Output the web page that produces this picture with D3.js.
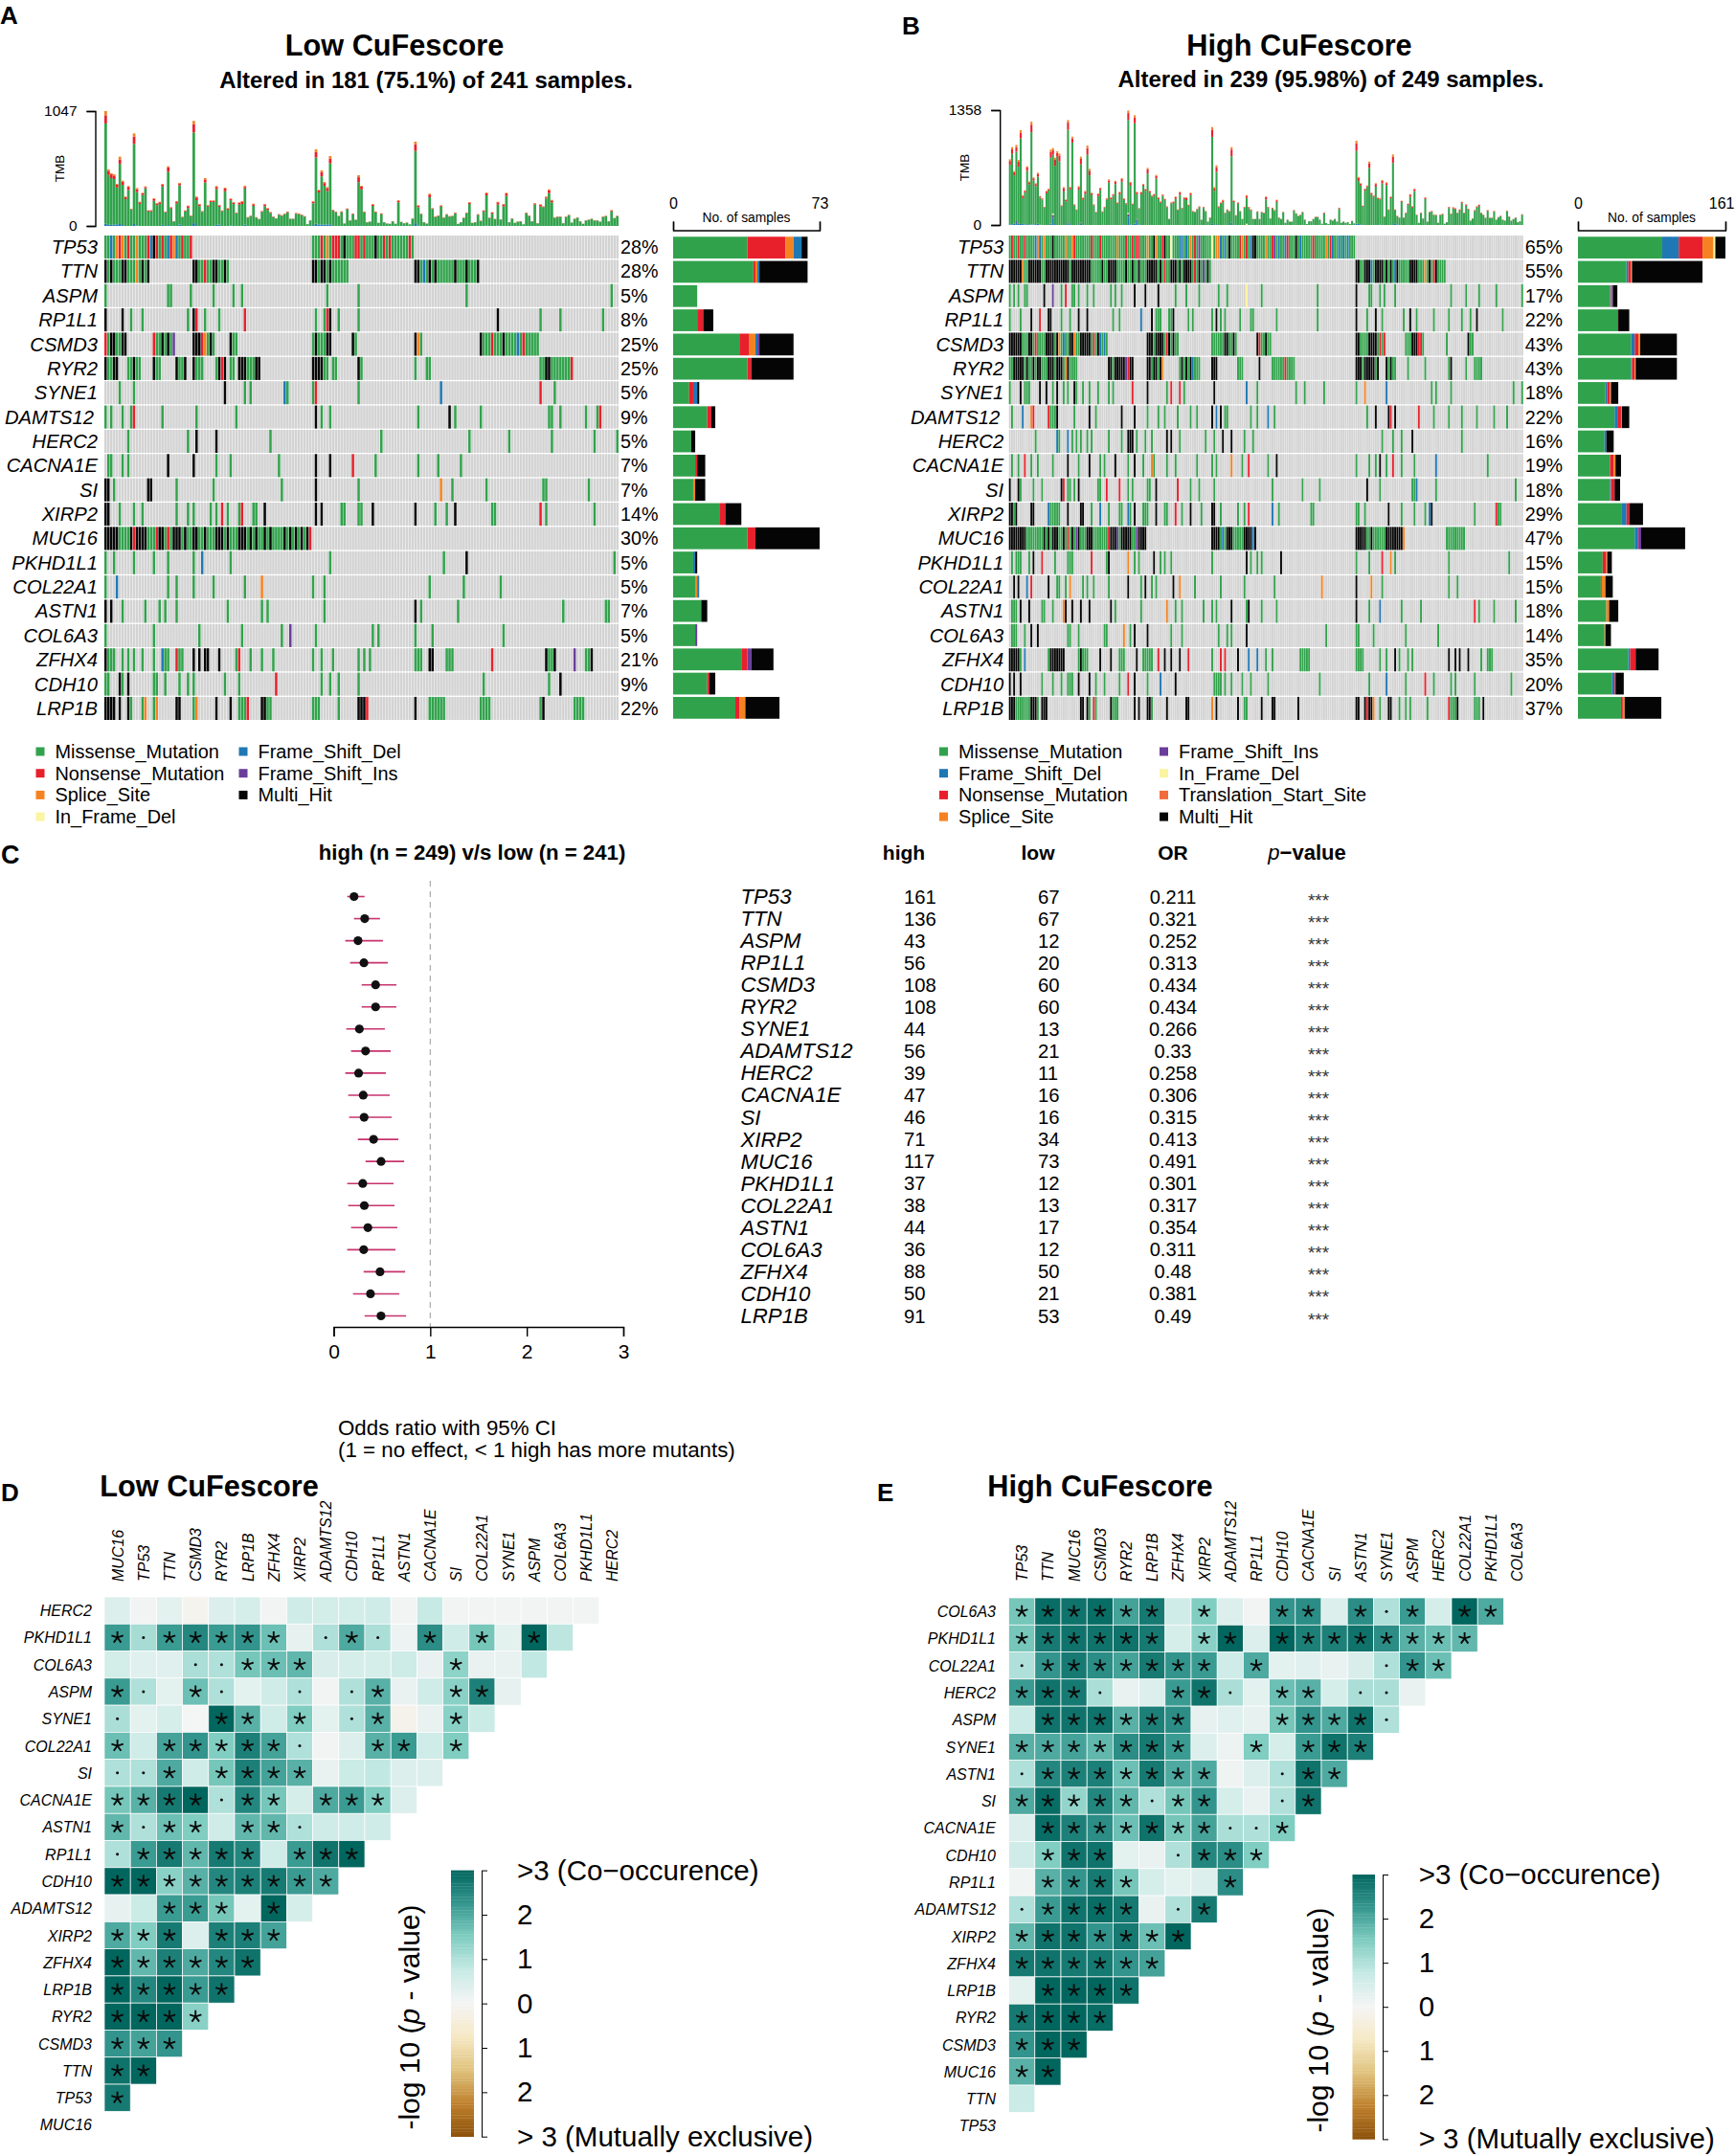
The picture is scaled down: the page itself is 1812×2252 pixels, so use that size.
<!DOCTYPE html>
<html>
<head>
<meta charset="utf-8">
<script src="https://cdn.jsdelivr.net/npm/d3@7"></script>
<style>
    body { margin: 0; background: white; }
    text { font-family: "Liberation Sans", Arial, sans-serif; fill: black; }
    .axis path, .axis line { stroke: black; stroke-width: 1.4; }
    .axis text { font-family: "Liberation Sans", Arial, sans-serif; }
</style>
</head>
<body>
<svg id="chart" width="1812" height="2252"></svg>
<script>
// oncoplot genes, top to bottom (the A of ADAMTS12 is cut off in the figure)
const oncoGenes = ["TP53","TTN","ASPM","RP1L1","CSMD3","RYR2","SYNE1","DAMTS12","HERC2","CACNA1E","SI","XIRP2","MUC16","PKHD1L1","COL22A1","ASTN1","COL6A3","ZFHX4","CDH10","LRP1B"]
const lowPct = [28,28,5,8,25,25,5,9,5,7,7,14,30,5,5,7,5,21,9,22]
const highPct = [65,55,17,22,43,43,18,22,16,19,18,29,47,15,15,18,14,35,20,37]

// M missense, N nonsense, S splice, D fs del, I fs ins, F in-frame del, T tss, H multi hit
const mutationColors = {M:"#31a24c",N:"#e8202c",S:"#f58220",D:"#1f78b4",I:"#6a3d9a",F:"#fbf4a0",T:"#f26b3a",H:"#050505"}

const lowTmb = [1047,515,480,471,384,631,413,268,364,157,843,346,221,302,361,142,145,253,209,221,
384,131,544,172,44,227,393,84,142,186,96,957,268,201,137,436,192,233,233,364,
192,142,349,163,250,218,122,215,227,366,81,93,204,81,64,137,201,163,128,87,
70,108,99,113,131,67,67,119,113,105,90,17,52,227,698,329,506,401,355,637,
148,131,93,134,23,160,52,113,58,462,366,131,35,41,201,131,29,116,35,23,
20,44,20,236,38,26,32,15,70,768,189,113,35,23,294,163,87,96,189,79,
108,90,93,122,20,35,76,122,218,29,35,108,49,142,305,76,125,64,221,61,
201,302,35,70,29,41,44,15,122,96,44,209,26,198,180,268,334,238,79,87,
87,26,87,102,32,67,79,44,20,52,58,67,52,52,41,87,93,44,145,73,93]
const lowTmbNonsense = [75,38,34,32,25,40,28,18,28,5,68,25,15,15,12,8,8,18,15,15,
18,5,40,8,2,18,15,4,6,18,4,75,25,15,6,28,10,8,8,20,
12,5,25,10,10,12,5,15,20,15,3,4,15,3,3,5,15,12,8,3,
2,4,4,5,6,2,2,5,5,4,3,1,1,15,50,18,40,25,28,45,
5,6,3,4,1,5,2,6,2,45,25,6,1,2,12,6,1,5,1,1,
1,2,1,15,1,1,1,0,2,60,12,3,1,1,25,5,4,4,8,2,
3,3,3,5,1,1,3,5,12,1,1,4,2,10,20,3,10,2,20,2,
18,22,1,2,1,1,2,0,5,4,2,10,1,15,5,10,25,18,2,3,
2,1,3,3,1,2,2,2,1,2,2,2,2,2,1,3,3,2,8,2,3]
const lowTmbSplice = [38,12,10,12,8,25,10,6,8,3,28,12,5,5,6,3,3,6,5,6,
6,3,10,4,1,5,8,2,3,5,2,30,8,5,3,12,5,6,6,8,
5,3,8,4,6,6,3,5,6,10,2,2,6,2,1,3,6,4,3,2,
1,2,2,3,3,1,1,3,3,3,2,0,1,6,25,6,15,10,10,22,
3,3,2,3,0,3,1,2,1,18,8,3,1,1,6,3,0,3,1,0,
0,1,0,6,1,1,1,0,2,25,6,3,1,1,8,3,2,2,4,2,
2,2,2,3,0,1,2,3,6,1,1,3,1,3,6,2,3,1,6,1,
5,6,1,2,1,1,1,0,3,2,1,4,1,5,3,8,10,6,2,2,
2,1,2,3,1,2,2,1,0,1,1,2,1,1,1,2,2,1,4,2,2]
const lowTmbDel = [[0,20],[1,10],[2,10],[3,12],[4,15],[5,18],[6,8],[10,18],[11,6],[20,10],[22,8],[26,12],[31,25],[32,8],[39,10],[40,12],[44,6],[49,12],[73,8],[74,20],[75,12],[76,14],[77,12],[78,14],[79,15],[89,8],[109,25],[110,6],[134,6],[138,6]]
const lowTmbIns = []
const lowTmbFrame = []

const highTmb = [777,920,637,946,769,1120,354,411,694,516,1221,562,494,618,343,317,215,403,430,890,
909,795,871,844,234,449,302,1240,449,1044,245,185,460,807,324,403,939,664,381,245,
155,373,441,162,215,317,539,328,366,524,268,392,554,317,260,1353,509,253,1297,392,
200,392,486,426,675,403,351,366,592,328,279,362,309,222,72,268,279,336,185,392,
204,328,328,241,381,166,158,192,222,64,215,166,41,90,1157,449,705,222,268,298,
147,185,166,920,290,117,268,166,72,215,354,215,185,72,72,162,72,155,147,336,
215,79,204,177,298,90,72,155,26,64,41,41,177,139,109,121,155,64,11,45,
45,72,98,98,64,15,147,23,11,64,53,72,41,204,26,41,26,34,11,49,
19,995,569,494,230,430,467,750,381,351,494,324,317,532,102,505,185,336,833,185,
109,90,287,90,147,253,366,222,430,124,26,147,79,328,41,155,166,124,121,26,
124,132,15,34,215,136,211,200,147,185,275,147,245,192,53,79,177,222,241,147,
124,87,177,87,87,166,64,94,109,64,53,170,102,53,72,90,34,45,128]
const highTmbNonsense = [45,55,35,55,60,65,25,20,40,25,90,25,25,35,15,12,8,20,15,70,
55,70,45,65,8,40,18,85,20,50,8,5,30,65,18,25,80,55,20,8,
5,22,18,5,10,12,25,18,15,30,10,20,30,15,10,80,30,8,70,20,
6,20,15,15,50,15,12,12,30,15,10,12,10,8,2,10,12,20,6,25,
6,15,25,8,20,6,5,8,8,2,10,6,1,3,85,30,55,10,10,20,
5,6,6,80,12,4,10,6,2,8,25,10,6,2,2,5,2,5,5,25,
10,2,8,6,18,3,2,5,1,2,1,1,6,4,3,4,5,2,0,1,
1,2,3,3,2,0,8,1,0,2,2,2,1,10,1,1,1,1,0,2,
0,90,35,20,8,18,15,55,15,12,30,12,10,30,3,25,6,15,75,6,
3,3,10,3,5,12,25,12,20,4,1,5,2,15,1,5,6,4,4,1,
4,5,0,1,10,5,10,10,5,10,12,5,12,8,2,2,8,10,10,5,
4,3,8,3,3,6,2,3,4,2,2,6,3,2,2,3,1,1,4]
const highTmbSplice = [20,25,15,25,20,30,10,8,15,12,35,10,10,12,6,5,4,8,6,25,
25,25,20,25,4,12,6,30,8,20,4,3,12,25,8,10,30,22,8,4,
3,8,8,3,4,5,12,6,6,10,5,8,12,6,4,30,12,4,25,8,
3,8,6,6,15,6,5,5,12,6,5,5,5,4,1,4,5,8,3,8,
3,6,8,4,8,3,3,4,4,1,4,3,1,2,30,15,22,4,5,8,
3,3,3,28,6,2,5,3,1,4,8,4,3,1,1,3,1,3,3,8,
4,1,3,3,6,2,1,3,0,1,1,1,3,2,2,2,3,1,0,1,
1,1,2,2,1,0,3,0,0,1,1,1,1,4,0,1,0,1,0,1,
0,30,12,8,4,6,6,20,6,5,10,5,5,10,2,10,3,5,25,3,
2,2,5,2,3,5,8,4,8,3,0,3,2,6,1,3,3,3,2,0,
3,3,0,1,4,3,4,4,3,3,5,3,4,3,1,2,3,4,4,3,
3,2,3,2,2,3,1,2,2,1,1,3,2,1,1,2,1,1,3]
const highTmbDel = [[0,8],[1,8],[2,15],[3,25],[4,15],[5,12],[6,12],[7,8],[8,10],[9,8],[10,6],[11,6],[12,10],[13,14],[14,6],[19,15],[20,85],[21,10],[27,20],[28,10],[33,15],[55,100],[56,8],[58,15],[59,45],[60,8],[94,20],[96,10],[103,25],[161,15],[162,12],[163,8],[172,8],[179,20],[180,8]]
const highTmbIns = [[3,20],[4,6],[20,35],[27,12],[33,12],[55,30],[59,15]]
const highTmbFrame = [[20,15],[55,12],[110,15]]

// oncoplot cells, one string per gene: sample index (or range) + mutation code
const lowCells = [
"0M 1M 2D 3M 4S 5N 6S 7M 8N 9M 10M 11S 12M 13M 14M 15N 16D 17H 18N 19M 20N 21M 22D 23N 24S 25D 26M 27N 28M 29M 30N 73-75M 76N 77M 78S 79M 80-82N 83M 84H 85-87M 88N 89N 90M 91N 92-94M 95H 96M 97M 98N 99M 100N 101-106M 107N 108M",
"0H 1M 2H 3-5M 6-7H 8-10M 11S 12M 13H 14M 15H 31-32H 33-34M 35N 36-37M 38-39H 40-41M 42H 43M 73-74H 75M 76-77H 78M 79H 80-85M 109-110H 111M 112D 113M 114H 115M 116H 117-122M 123H 124-126M 127H 128-130M 131H",
"0M 22-23M 30M 38M 45M 48M 78M 89M 127M 178M",
"0H 6H 9M 13M 29M 31H 32N 35M 40M 49N 74M 77M 78N 79H 82M 89M 138H 153M 160M 175M",
"0N 1M 2-3H 4-5M 6-7H 17N 18-19M 20H 21M 22H 23M 24I 31-33H 34N 35S 36M 37H 38M 44H 45-46M 73M 74H 75-77M 78-79H 87H 88M 109H 110S 111M 132H 133-135M 136N 137-139M 140H 141-144M 145D 146M 147N 148-152M",
"0H 1M 2M 3-4H 8-9M 10H 11-12M 17H 18-19M 25H 26-27M 28H 31H 32-34M 39M 40H 41N 42H 44-45M 47-49H 50-52M 53-54H 73-76H 77-78M 80-81M 89H 90M 109M 113-114M 153-154M 155-156H 157-163M 164N",
"5M 10M 42H 49M 51M 63D 64M 73M 74N 89M 118D 153N 158M",
"0M 2M 6M 9M 10N 20M 32M 46M 74H 76M 79M 110M 121H 123M 132M 156-157M 160M 169M 173M 174N",
"8M 29M 32H 39H 58M 97M 128M 142M 157M 172M 180M",
"1-2M 6M 8M 22H 31H 39M 44M 61M 74H 79H 87N 95M 110M 117M 125M",
"0-1H 3M 15-16H 25M 38M 62M 74H 89M 118S 122M 134M 154-155M 170M",
"0-1H 5M 10M 13M 25M 29M 31M 37M 39M 41N 43M 47M 48N 52-53M 56H 74H 76H 83-84M 89-90M 94H 109H 116M 120M 123H 136-137M 153N 155M 172M",
"0-4H 5-8M 9H 10N 11-14H 15-17M 18N 19-20H 21M 22N 23M 24-26H 27M 28H 29-30M 31-32H 33-34M 35H 36-38M 39-41H 42M 43H 44-46M 47-49H 50M 51H 52M 53H 54-55M 56H 57M 58H 59-62M 63H 64M 65H 66M 67H 68M 69H 70M 71H 72N",
"0M 3M 10M 17M 22M 31M 34D 44M 79M 119M 127H 179M",
"0M 4D 22M 25M 31M 38M 49M 55S 73M 77M 114M 126M 139M",
"0H 2H 6M 14M 19M 21M 25M 43M 55M 57M 77M 109H 111M 124M 161M 176-177M",
"0M 17M 33M 48M 62M 65I 74M 94M 96M 109M 115M 140M",
"0H 1-3M 6M 8M 10M 13M 17M 20D 21-22M 25N 26-27M 31H 33H 35-36H 40H 46M 47N 51M 55M 59M 73M 76M 80M 89M 91M 93M 109-111M 114-115H 120-122M 136N 155H 156-157M 158H 165I 169-170M 171H",
"0-1M 5H 6M 8H 17-18M 21M 26M 29M 31M 42M 47M 60N 76M 79M 82M 89M 133M 156M 160H",
"0-3H 5H 8H 9M 13M 14S 17M 18S 25-26H 31M 32S 39H 44H 47-49M 50N 55-56H 57-58M 73-75M 82M 89-91H 92N 109H 114-119M 132-135M 153M 154H 165-168M"
]
const highCells = [
"0-160M 1N 4N 7N 12D 13S 14D 16S 20H 26S 29S 30N 38N 42N 50S 54N 57N 59N 60N 64S 67H 68S 71N 72H 75F 79D 80D 82D 84S 86N 88I 94F 96S 97S 98D 100D 102H 107N 108S 110N 112D 113H 114H 119S 122N 123I 125D 128D 129N 133H 135D 141N 147S 149N 150D 153D 155D 157D",
"0-93M 0-5H 6S 9-14H 17-27H 29-37H 43H 46-49H 54H 57H 60H 64-68H 70H 72N 75-77H 79H 81-84H 86N 88H 90I 92H 161-202M 161-162H 165-167H 168D 170-173H 175H 177H 179D 180H 186-189H 193S 195H 197N 198H",
"0M 2M 4M 7M 8M 16H 20I 24M 26N 29M 30M 32M 36M 39M 47M 49M 52M 58H 63H 69H 77M 82M 88M 97M 101M 110F 117M 143M 161H 167M 168M 172M 174M 179M 205M 212M 218M 226M 238M",
"0M 5M 10H 14N 18-19H 24M 28M 32H 36H 48M 51M 61D 66H 68-70M 74M 75M 76H 83M 85M 94M 96H 98M 100M 107M 112-113M 124M 143M 161H 166M 170H 173M 183M 186H 189M 197M 204M 210M 214M 217H 229M",
"0-45M 0-5H 9-10H 12N 17-20H 22H 23S 25D 28-29H 30S 33-37H 39N 41H 42D 44D 64-78M 64-66H 68-71H 73N 74H 76H 94-105M 100-101H 104H 115H 116N 117M 118M 119H 120M 121M 161-174M 161-162H 167-170H 172N 174N 184-192M 187-189H 190N 191N 203M 213H 214M 215M",
"0-31M 2-6H 8H 11H 13-14H 18-20H 22-24H 26S 27H 46-57M 46-47H 49-53H 54I 55N 56-57H 64-71M 64-65H 67-68H 70H 71S 79-88M 80H 82H 84H 85D 94-96H 106-108M 116H 122-132M 128N 161-171M 161-163H 165-169H 171H 175H 176M 177H 178M 179M 185M 193M 204M 205H 212M 216-219M",
"0M 5H 7-9M 14H 17H 20M 22H 25M 27M 30H 31M 34M 37M 41M 46M 48M 57N 64H 73M 75N 79N 81M 95H 110D 115M 133M 137M 146M 161M 165S 175D 196M 198M 205M 234M 238M",
"1M 6D 10S 11N 18N 19-21M 22H 30M 37H 40M 52H 58H 64M 69M 72M 78M 84M 87M 94H 96D 98H 100-101M 112M 115M 120D 123M 166M 170H 176H 177N 179H 190N 197M 204M 210M 217M 225M 231M",
"12M 22D 23M 27D 29M 31M 33M 36M 38M 46M 52M 55-57H 59M 63M 66M 73H 75H 79M 91M 95M 99H 103H 109M 113M 173M 178M 182M 187H 210M",
"1M 4M 7N 10M 13M 20M 27H 32M 37H 42M 44M 49H 55M 58H 62M 66S 67M 73M 77M 87M 94M 96M 103S 108M 111N 120M 124H 161M 167M 170M 172H 175M 178N 182M 188M 198D 222M",
"0H 4H 5M 11M 15M 24H 25N 27-28M 30M 32H 41-42M 45N 51N 55M 57M 64-65M 68H 78N 84M 88M 95M 122M 136M 144M 166H 172M 187-188M 189D 198M 235M",
"0H 1H 2M 3H 10-11H 18D 19-23M 27H 33-34H 38M 42D 46M 51-52M 55D 56M 58H 62-64M 68H 72-73M 77N 80M 84H 89M 94-95H 98M 106M 109M 111N 122D 125M 140-141M 161-162M 165M 176H 182M 188M 193M 195D 196H 216M 226N 227M 228M",
"0-63M 0-7H 16H 18H 20-22H 25H 27N 29H 31I 32H 36-38H 46N 47-49H 50I 52-56H 59I 60-63H 94-114M 94-97H 99D 101-103H 109-112H 113D 114H 161-183M 161-165H 168H 175-182H 183S 203-211M",
"1M 3-5M 9M 11H 15N 21M 27-29M 38N 45M 46H 55S 58M 60M 67H 70M 72M 75M 94M 110H 112M 115M 117M 126H 161M 167M 173N 177S 179M 204M 232M",
"2H 4H 8D 10N 18H 22M 23M 26M 28S 34M 36M 39M 46M 55H 61M 63H 66M 68M 76H 79S 86M 98M 109M 123M 145S 161H 168S 173M 204M 208M",
"1-3M 5H 9H 15M 16M 20M 25S 26H 29H 33H 37H 47H 49M 61M 73S 77M 80M 90M 94M 96M 103H 110M 111H 117M 124M 161H 167M 172D 182M 191M 216N 218M 225M 235M",
"1-3M 7M 10H 13H 27-28M 32M 44-45M 53S 56M 58H 64H 75M 80M 97M 101M 103M 110H 147M 161-162M 169M 184M 199M",
"0-4H 5M 7D 19-25H 18M 32M 33H 34-36M 42H 47H 51-53M 59H 62-66M 69N 72H 75H 79H 83N 94M 98N 100N 106H 111D 115D 119M 122M 135-139M 161-164M 172M 175M 179H 181M 185M 187M 204H 207H 209H 213H 219M 222-224M",
"0H 2H 5H 15M 20M 24M 27-29M 32H 37H 40M 44M 51M 55N 58H 64M 70D 77H 95-98M 100M 103M 108M 112M 120M 144M 167M 175D 184M 193N 197M 205M 207M 216M 233M",
"0-2H 3-9M 10-12H 13M 15-17H 33-34H 36H 37M 39N 40M 47H 48-50M 58H 60H 64-65H 66M 73H 82-83H 94S 96H 106H 109-110M 117H 122-123H 134H 161-162H 165H 166N 167H 168H 169S 172M 176-177H 181M 184M 186M 194M 204N 205-207M 208H 216-218M 220H"
]

// right-hand bars: counts per gene by mutation type
const lowBarCounts = {
    M:[37,40,12,12,33,37,8,17,9,11,10,23,37,10,11,14,11,34,17,31],
    N:[19,1,0,3,5,2,2,2,0,1,0,3,4,0,0,0,0,3,1,2],
    S:[4,1,0,0,3,0,0,0,0,0,1,0,0,0,1,0,0,0,0,3],
    D:[4,1,0,0,1,0,2,0,0,0,0,0,0,1,1,0,0,0,0,0],
    I:[0,0,0,0,1,0,0,0,0,0,0,0,0,0,0,0,1,2,0,0],
    H:[3,24,0,5,17,21,1,2,2,4,5,8,32,1,0,3,0,11,3,17]
}
const highBarCounts = {
    M:[92,53,35,43,58,58,30,40,29,35,35,48,62,27,25,31,29,55,37,47],
    D:[18,2,1,0,4,1,2,3,2,0,1,5,3,0,0,0,0,2,3,0],
    N:[26,3,1,1,4,3,3,4,0,4,4,3,1,4,1,0,0,6,1,2],
    S:[12,1,0,0,2,1,1,1,0,2,0,0,0,1,4,3,1,0,0,2],
    I:[0,0,1,0,0,0,0,0,0,0,0,0,3,0,0,0,0,0,0,0],
    F:[2,0,0,0,0,0,0,0,0,0,0,0,0,0,0,0,0,0,0,0],
    H:[11,77,5,12,40,45,8,8,8,6,6,15,48,5,8,10,6,25,9,40]
}

const lowLegend = [["M","Missense_Mutation"],["N","Nonsense_Mutation"],["S","Splice_Site"],["F","In_Frame_Del"],["D","Frame_Shift_Del"],["I","Frame_Shift_Ins"],["H","Multi_Hit"]]
const highLegend = [["M","Missense_Mutation"],["D","Frame_Shift_Del"],["N","Nonsense_Mutation"],["S","Splice_Site"],["I","Frame_Shift_Ins"],["F","In_Frame_Del"],["T","Translation_Start_Site"],["H","Multi_Hit"]]

// forest plot
const forestGenes = ["TP53","TTN","ASPM","RP1L1","CSMD3","RYR2","SYNE1","ADAMTS12","HERC2","CACNA1E","SI","XIRP2","MUC16","PKHD1L1","COL22A1","ASTN1","COL6A3","ZFHX4","CDH10","LRP1B"]
const forestHigh = [161,136,43,56,108,108,44,56,39,47,46,71,117,37,38,44,36,88,50,91]
const forestLow = [67,67,12,20,60,60,13,21,11,16,16,34,73,12,13,17,12,50,21,53]
const forestOr = [0.211,0.321,0.252,0.313,0.434,0.434,0.266,0.33,0.258,0.306,0.315,0.413,0.491,0.301,0.317,0.354,0.311,0.48,0.381,0.49]
const forestCiLow = [0.14,0.21,0.12,0.17,0.29,0.29,0.13,0.18,0.12,0.15,0.16,0.25,0.33,0.14,0.15,0.18,0.14,0.31,0.20,0.32]
const forestCiHigh = [0.32,0.48,0.51,0.56,0.65,0.65,0.53,0.59,0.54,0.58,0.60,0.67,0.73,0.62,0.63,0.66,0.64,0.74,0.68,0.75]

// somatic interaction triangles: -log10(p), negative = mutually exclusive
const lowColumns = ["MUC16","TP53","TTN","CSMD3","RYR2","LRP1B","ZFHX4","XIRP2","ADAMTS12","CDH10","RP1L1","ASTN1","CACNA1E","SI","COL22A1","SYNE1","ASPM","COL6A3","PKHD1L1","HERC2"]
const lowRows = ["HERC2","PKHD1L1","COL6A3","ASPM","SYNE1","COL22A1","SI","CACNA1E","ASTN1","RP1L1","CDH10","ADAMTS12","XIRP2","ZFHX4","LRP1B","RYR2","CSMD3","TTN","TP53","MUC16"]
const lowMatrix = [
[.4,.05,.3,-.1,.4,.5,.05,.6,.55,.55,.6,.05,.75,.05,.05,.05,.05,.05,.05],
[2.2,1.1,2.2,2.5,2.2,2.3,1.7,.25,1.0,2.0,1.05,.15,2.4,.6,1.6,.3,3,.85],
[.55,.35,.35,1.05,1.0,1.6,1.7,1.8,.45,.5,.5,.65,.2,1.35,.2,.2,.8],
[2.2,1.0,.3,1.7,1.0,.3,.6,1.0,.05,1.0,1.9,.2,.6,1.4,2.6,.25],
[1.05,.3,.5,.02,3,1.9,.6,1.5,.3,1.0,1.9,-.15,.2,1.4,.7],
[1.7,.6,2.1,2.3,1.5,2.6,2.1,1.0,.05,.4,1.9,2.2,.6,1.5],
[1.0,1.0,2.0,.6,1.6,2.6,2.1,1.9,.2,.7,.8,.4,.4],
[1.6,1.9,2.7,3,1.0,2.5,1.6,.5,2.0,2.2,1.5,.4],
[1.8,1.0,1.7,1.5,.6,1.8,1.8,1.0,.6,.6,.6],
[1.0,2.2,2.7,1.8,2.7,2.5,.6,2.2,2.8,3],
[3,3,1.4,1.9,2.5,2.6,2.7,2.2,2.0],
[.25,.7,2.2,2.2,1.6,.3,3,.5],
[2.0,1.5,2.7,.4,2.6,2.6,2.1],
[3,1.8,2.6,2.0,2.5,2.8],
[3,2.5,3,2.2,2.8],
[3,3,3,1.4],
[2.3,2.1,2.3],
[2.8,3],
[2.7]
]
const highColumns = ["TP53","TTN","MUC16","CSMD3","RYR2","LRP1B","ZFHX4","XIRP2","ADAMTS12","RP1L1","CDH10","CACNA1E","SI","ASTN1","SYNE1","ASPM","HERC2","COL22A1","PKHD1L1","COL6A3"]
const highRows = ["COL6A3","PKHD1L1","COL22A1","HERC2","ASPM","SYNE1","ASTN1","SI","CACNA1E","CDH10","RP1L1","ADAMTS12","XIRP2","ZFHX4","LRP1B","RYR2","CSMD3","MUC16","TTN","TP53"]
const highMatrix = [
[1.6,2.9,2.8,2.9,2.1,2.7,.6,1.5,.4,.05,2.3,2.4,.4,2.4,1.0,2.2,.5,3,2.0],
[1.6,2.7,2.8,2.8,2.8,2.7,.5,1.4,3,.4,3,2.6,2.6,2.8,2.4,1.9,1.7,1.8],
[1.0,2.3,2.7,2.4,2.1,2.7,2.3,2.2,.6,2.0,.3,.35,.2,.45,1.0,2.3,1.7],
[2.2,2.8,2.7,1.05,.2,.4,2.2,2.8,1.05,.3,1.7,1.9,.5,1.05,1.05,.2],
[.7,2.8,2.8,2.8,1.9,2.6,2.4,.25,.35,.25,1.6,2.3,2.0,2.8,1.0],
[1.9,2.0,2.1,1.8,2.4,2.7,2.2,.4,.15,1.5,.5,2.2,2.8,2.6],
[1.0,2.5,2.6,2.6,1.7,2.7,2.0,2.0,.1,.4,1.0,2.8,2.0],
[2.0,2.9,1.3,2.5,1.8,1.0,1.6,2.3,.5,.2,1.0,2.8],
[.4,2.9,2.6,2.4,1.7,2.8,1.6,2.1,1.05,1.0,1.5],
[.6,1.5,2.8,2.8,.3,.2,1.0,2.5,2.4,1.5],
[.08,1.9,2.3,2.7,1.6,.5,.3,.4,2.4],
[1.0,2.2,2.8,2.9,2.7,.2,1.0,2.7],
[1.8,2.8,2.8,2.3,2.7,1.7,3],
[2.7,2.8,2.7,2.7,2.3,2.1],
[.3,3,3,3,2.8],
[2.7,3,3,2.9],
[2.3,3,3],
[1.9,3],
[.7]
]
const scaleLabels = [">3 (Co\u2212occurence)","2","1","0","1","2","> 3 (Mutually exclusive)"]
const scaleTicks = [3,2,1,0,-1,-2,-3]
const brbg = ["#8C510A","#BF812D","#DFC27D","#F6E8C3","#F5F5F5","#C7EAE5","#80CDC1","#35978F","#01665E"]

let svg = d3.select("#chart")
let heatColor = d3.scaleLinear().domain(d3.range(9).map(i => -3 + i * 0.75)).range(brbg).clamp(true)

// five armed star, like the pch * of the original plot
const starSymbol = {
    draw(context, size) {
        let r = Math.sqrt(size)
        d3.range(5).forEach(k => {
            let a = -Math.PI / 2 + k * 2 * Math.PI / 5
            context.moveTo(0, 0)
            context.lineTo(r * Math.cos(a), r * Math.sin(a))
        })
    }
}

function parseCells(str) {
    let cells = new Map()
    str.split(" ").forEach(tok => {
        let p = tok.match(/^(\d+)(?:-(\d+))?([A-Z])$/)
        let from = +p[1], to = p[2] ? +p[2] : from
        d3.range(from, to + 1).forEach(i => cells.set(i, p[3]))
    })
    return cells
}

function lookup(pairs, n) {
    let out = new Array(n).fill(0)
    pairs.forEach(p => { out[p[0]] = p[1] })
    return out
}

function drawTmb(g, o) {
    let n = o.total.length
    let del = lookup(o.del, n), ins = lookup(o.ins, n), frame = lookup(o.frame, n)
    let table = o.total.map((t, i) => ({
        i: i, D: del[i], I: ins[i], F: frame[i], N: o.nonsense[i], S: o.splice[i],
        M: t - del[i] - ins[i] - frame[i] - o.nonsense[i] - o.splice[i]
    }))
    let x = d3.scaleBand().domain(d3.range(n)).range([o.x0, o.x0 + 537]).paddingInner(0.08)
    let y = d3.scaleLinear().domain([0, o.max]).range([o.y1, o.y0])
    let series = d3.stack().keys(["D","I","F","M","N","S"])(table)
    g.selectAll("g.tmb").data(series).enter().append("g")
        .attr("fill", s => mutationColors[s.key])
        .selectAll("rect").data(s => s).enter().append("rect")
        .attr("x", d => x(d.data.i))
        .attr("width", x.bandwidth())
        .attr("y", d => y(d[1]))
        .attr("height", d => Math.max(0, y(d[0]) - y(d[1])))
    let axis = g.append("g").attr("class", "axis")
        .attr("transform", `translate(${o.x0 - 9.5},0)`)
        .call(d3.axisLeft(y).tickValues([0, o.max]).tickSize(9).tickPadding(10).tickFormat(d3.format("d")))
    axis.selectAll("text").attr("font-size", 15.5)
    g.append("text").text("TMB").attr("text-anchor", "middle").attr("font-size", 13.5)
        .attr("transform", `translate(${o.x0 - 42},${(o.y0 + o.y1) / 2}) rotate(-90)`)
}

function drawOnco(g, o) {
    let n = o.samples
    let x = d3.scaleBand().domain(d3.range(n)).range([o.x0, o.x0 + 537]).paddingInner(0.14)
    let y = d3.scaleBand().domain(oncoGenes).range([246, 752]).paddingInner(0.05)
    oncoGenes.forEach((gene, gi) => {
        let cells = parseCells(o.cells[gi])
        let row = g.append("g")
        row.selectAll("rect").data(d3.range(n)).enter().append("rect")
            .attr("x", i => x(i))
            .attr("y", y(gene))
            .attr("width", x.bandwidth())
            .attr("height", y.bandwidth())
            .attr("fill", i => cells.has(i) ? mutationColors[cells.get(i)] : "#d3d3d3")
        g.append("text").text(gene)
            .attr("x", o.x0 - (gene == "DAMTS12" ? 11 : 7) + o.labelShift)
            .attr("y", y(gene) + y.bandwidth() / 2 + 7)
            .attr("text-anchor", "end").attr("font-style", "italic").attr("font-size", 20.2)
        g.append("text").text(o.pct[gi] + "%")
            .attr("x", o.x0 + 539)
            .attr("y", y(gene) + y.bandwidth() / 2 + 7)
            .attr("font-size", 19.7)
    })

    // right-hand stacked bars
    let keys = Object.keys(o.bars)
    let table = oncoGenes.map((gene, gi) => {
        let r = {gene: gene}
        keys.forEach(k => { r[k] = o.bars[k][gi] })
        return r
    })
    let bx = d3.scaleLinear().domain([0, o.barMax]).range([o.barX0, o.barX1])
    let by = d3.scaleBand().domain(oncoGenes).range([246, 752]).paddingInner(0.1).paddingOuter(0.05)
    g.selectAll("g.bars").data(d3.stack().keys(keys)(table)).enter().append("g")
        .attr("fill", s => mutationColors[s.key])
        .selectAll("rect").data(s => s).enter().append("rect")
        .attr("x", d => bx(d[0]))
        .attr("y", d => by(d.data.gene))
        .attr("width", d => bx(d[1]) - bx(d[0]))
        .attr("height", by.bandwidth())
    let axis = g.append("g").attr("class", "axis").attr("transform", "translate(0,240.5)")
        .call(d3.axisTop(bx).tickValues([0, o.barMax]).tickSize(9).tickSizeOuter(9).tickPadding(14).tickFormat(d3.format("d")))
    axis.selectAll("text").attr("font-size", 16)
    // keep the 161 label inside the page
    axis.selectAll("text").filter(d => bx(d) > 1790).attr("text-anchor", "end").attr("dx", 9)
    g.append("text").text("No. of samples")
        .attr("x", (o.barX0 + o.barX1) / 2).attr("y", 232)
        .attr("text-anchor", "middle").attr("font-size", 13.8)
}

function drawLegend(g, entries, x1, x2, perCol) {
    entries.forEach((e, i) => {
        let col = i < perCol ? x1 : x2
        let row = i < perCol ? i : i - perCol
        let yy = 785 + row * 22.7
        g.append("rect").attr("x", col).attr("y", yy - 4.5).attr("width", 9).attr("height", 9)
            .attr("fill", mutationColors[e[0]])
        g.append("text").text(e[1]).attr("x", col + 20).attr("y", yy + 7).attr("font-size", 19.9)
    })
}

function panelHead(letter, lx, ly, title, tx, subtitle, sx, sy) {
    svg.append("text").text(letter).attr("x", lx).attr("y", ly)
        .attr("font-weight", "bold").attr("font-size", 26)
    svg.append("text").text(title).attr("x", tx).attr("y", 58)
        .attr("text-anchor", "middle").attr("font-weight", "bold").attr("font-size", 30.7)
    svg.append("text").text(subtitle).attr("x", sx).attr("y", sy)
        .attr("text-anchor", "middle").attr("font-weight", "bold").attr("font-size", 23.9)
}

// panels A and B
panelHead("A", 0, 25, "Low CuFescore", 412, "Altered in 181 (75.1%) of 241 samples.", 445, 92)
panelHead("B", 942, 36, "High CuFescore", 1357, "Altered in 239 (95.98%) of 249 samples.", 1390, 91)

let panelA = svg.append("g")
drawTmb(panelA, {total: lowTmb, nonsense: lowTmbNonsense, splice: lowTmbSplice, del: lowTmbDel, ins: lowTmbIns, frame: lowTmbFrame, max: 1047, x0: 109, y0: 116, y1: 236})
drawOnco(panelA, {samples: 181, x0: 109, labelShift: 0, cells: lowCells, pct: lowPct, bars: lowBarCounts, barMax: 73, barX0: 703, barX1: 856})
drawLegend(panelA, lowLegend, 37.5, 249.5, 4)

let panelB = svg.append("g")
drawTmb(panelB, {total: highTmb, nonsense: highTmbNonsense, splice: highTmbSplice, del: highTmbDel, ins: highTmbIns, frame: highTmbFrame, max: 1358, x0: 1053.7, y0: 115, y1: 235})
drawOnco(panelB, {samples: 239, x0: 1053.7, labelShift: 1.5, cells: highCells, pct: highPct, bars: highBarCounts, barMax: 161, barX0: 1648, barX1: 1802})
drawLegend(panelB, highLegend, 981, 1211, 4)

// panel C
svg.append("text").text("C").attr("x", 1).attr("y", 902).attr("font-weight", "bold").attr("font-size", 27)
svg.append("text").text("high (n = 249) v/s low (n = 241)").attr("x", 493).attr("y", 898)
    .attr("text-anchor", "middle").attr("font-weight", "bold").attr("font-size", 22.2)

let fx = d3.scaleLinear().domain([0, 3]).range([348.5, 651])
let fy = d3.scalePoint().domain(forestGenes).range([936.5, 1374.5])

svg.append("line").attr("x1", fx(1)).attr("x2", fx(1)).attr("y1", 920).attr("y2", 1386)
    .attr("stroke", "#aaaaaa").attr("stroke-width", 1.2).attr("stroke-dasharray", "6,5")
svg.selectAll("line.ci").data(forestGenes).enter().append("line")
    .attr("x1", (d, i) => fx(forestCiLow[i]))
    .attr("x2", (d, i) => fx(forestCiHigh[i]))
    .attr("y1", d => fy(d)).attr("y2", d => fy(d))
    .attr("stroke", "#c8326e").attr("stroke-width", 1.6)
svg.selectAll("circle.or").data(forestGenes).enter().append("circle")
    .attr("cx", (d, i) => fx(forestOr[i]))
    .attr("cy", d => fy(d)).attr("r", 4.6).attr("fill", "#111")
let fa = svg.append("g").attr("class", "axis").attr("transform", "translate(0,1386)")
    .call(d3.axisBottom(fx).tickValues([0, 1, 2, 3]).tickSize(10).tickSizeOuter(10).tickPadding(8).tickFormat(d3.format("d")))
fa.selectAll("text").attr("font-size", 21)
svg.append("text").text("Odds ratio with 95% CI").attr("x", 353).attr("y", 1499).attr("font-size", 22.3)
svg.append("text").text("(1 = no effect, < 1 high has more mutants)").attr("x", 353).attr("y", 1522).attr("font-size", 22.3)

// table next to the forest plot
let tableHead = [["high", 944], ["low", 1084], ["OR", 1225]]
tableHead.forEach(h => {
    svg.append("text").text(h[0]).attr("x", h[1]).attr("y", 898)
        .attr("text-anchor", "middle").attr("font-weight", "bold").attr("font-size", 21)
})
let pHead = svg.append("text").attr("x", 1365).attr("y", 898).attr("text-anchor", "middle").attr("font-size", 22)
pHead.append("tspan").text("p").attr("font-style", "italic")
pHead.append("tspan").text("\u2212value").attr("font-weight", "bold")

forestGenes.forEach((gene, i) => {
    let yy = fy(gene)
    svg.append("text").text(gene).attr("x", 773.5).attr("y", yy + 7.5).attr("font-style", "italic").attr("font-size", 22.2)
    svg.append("text").text(forestHigh[i]).attr("x", 944).attr("y", yy + 7).attr("font-size", 20.3)
    svg.append("text").text(forestLow[i]).attr("x", 1084).attr("y", yy + 7).attr("font-size", 20.3)
    svg.append("text").text(forestOr[i]).attr("x", 1225).attr("y", yy + 7).attr("text-anchor", "middle").attr("font-size", 20)
    svg.append("text").text("***").attr("x", 1377).attr("y", yy + 10).attr("text-anchor", "middle").attr("font-size", 19)
        .attr("font-weight", "normal").attr("opacity", 0.8)
})

// panels D and E
function drawTriangle(o) {
    let x = d3.scaleBand().domain(o.columns).range([o.x0, o.x0 + 27.2 * 20])
    let y = d3.scaleBand().domain(o.rows).range([o.y0, o.y0 + 28.28 * 20])
    let star = d3.symbol(starSymbol, 42)
    let g = svg.append("g")
    o.matrix.forEach((row, ri) => {
        row.forEach((v, ci) => {
            let cx = x(o.columns[ci]) + x.bandwidth() / 2, cy = y(o.rows[ri]) + y.bandwidth() / 2
            g.append("rect").attr("x", x(o.columns[ci])).attr("y", y(o.rows[ri]))
                .attr("width", x.bandwidth()).attr("height", y.bandwidth())
                .attr("fill", heatColor(v)).attr("stroke", "white").attr("stroke-width", 0.7)
            // * for p < 0.05, small dot for p < 0.1
            if (v >= 1.3) {
                g.append("path").attr("d", star()).attr("transform", `translate(${cx},${cy})`)
                    .attr("stroke", "#0a0a0a").attr("stroke-width", 1.9).attr("fill", "none")
            } else if (v >= 1) {
                g.append("circle").attr("cx", cx).attr("cy", cy).attr("r", 1.5).attr("fill", "#0a0a0a")
            }
        })
    })
    o.rows.forEach(r => {
        g.append("text").text(r).attr("x", o.labelX).attr("y", y(r) + y.bandwidth() / 2 + 6)
            .attr("text-anchor", "end").attr("font-style", "italic").attr("font-size", 16)
    })
    o.columns.forEach(c => {
        g.append("text").text(c).attr("font-style", "italic").attr("font-size", 16)
            .attr("transform", `translate(${x(c) + x.bandwidth() / 2 + 6},1652) rotate(-90)`)
    })
    svg.append("text").text(o.letter).attr("x", o.letterX).attr("y", 1568).attr("font-weight", "bold").attr("font-size", 26)
    svg.append("text").text(o.title).attr("x", o.titleX).attr("y", 1563).attr("text-anchor", "middle")
        .attr("font-weight", "bold").attr("font-size", 30.7)

    // colour key
    let ky = d3.scaleLinear().domain([3, -3]).range([o.keyY0, o.keyY1])
    let steps = d3.range(-3, 3, 0.06)
    g.selectAll("rect.key").data(steps).enter().append("rect")
        .attr("x", o.keyX).attr("width", o.keyW)
        .attr("y", d => ky(d + 0.06)).attr("height", ky(0) - ky(0.06) + 0.3)
        .attr("fill", d => heatColor(d + 0.03))
    let ka = g.append("g").attr("class", "axis").attr("transform", `translate(${o.keyAxis},0)`)
        .call(d3.axisRight(ky).tickValues(scaleTicks).tickSize(6).tickSizeOuter(0)
            .tickFormat(""))
    ka.selectAll("path, line").style("stroke-width", 1)
    scaleTicks.forEach((t, i) => {
        g.append("text").text(scaleLabels[i]).attr("x", o.keyLabelX).attr("y", ky(t) + 10).attr("font-size", 29.5)
    })
    let kt = g.append("text").attr("text-anchor", "middle").attr("font-size", 30)
        .attr("transform", `translate(${o.keyTitleX},${o.keyTitleY}) rotate(-90)`)
    kt.append("tspan").text("-log 10 (")
    kt.append("tspan").text("p").attr("font-style", "italic")
    kt.append("tspan").text(" - value)")
}

drawTriangle({letter: "D", letterX: 1, title: "Low CuFescore", titleX: 218.5, columns: lowColumns, rows: lowRows, matrix: lowMatrix,
    x0: 109, y0: 1668, labelX: 96,
    keyX: 471, keyW: 24, keyY0: 1953.6, keyY1: 2231.7, keyAxis: 503, keyLabelX: 540, keyTitleX: 438, keyTitleY: 2107})
drawTriangle({letter: "E", letterX: 916, title: "High CuFescore", titleX: 1149, columns: highColumns, rows: highRows, matrix: highMatrix,
    x0: 1053.6, y0: 1669, labelX: 1040,
    keyX: 1412.5, keyW: 23.5, keyY0: 1958, keyY1: 2234.4, keyAxis: 1444, keyLabelX: 1481.7, keyTitleX: 1387, keyTitleY: 2110})
</script>
</body>
</html>
